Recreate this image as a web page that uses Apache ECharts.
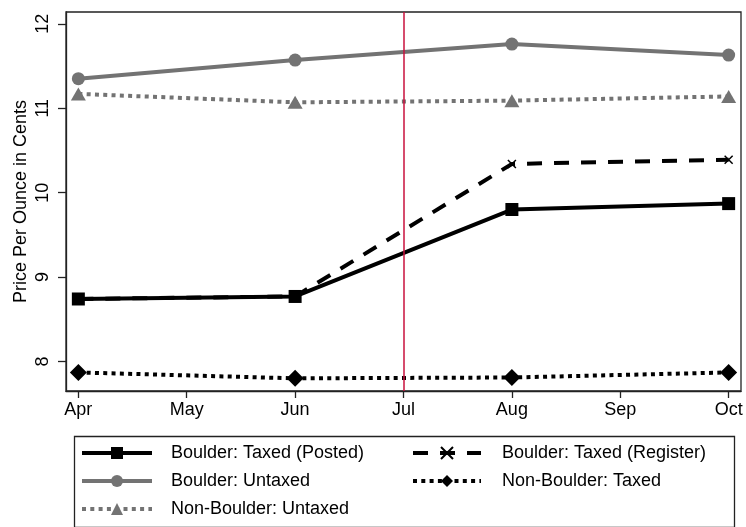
<!DOCTYPE html>
<html>
<head>
<meta charset="utf-8">
<script src="https://cdn.jsdelivr.net/npm/echarts@6/dist/echarts.min.js"></script>
<style>
  html, body { margin: 0; padding: 0; background: #fff; }
  #chart { width: 746px; height: 527px; }
</style>
</head>
<body>
<div id="chart"></div>
<script>
// Month axis and the months where prices were surveyed
const months = ['Apr', 'May', 'Jun', 'Jul', 'Aug', 'Sep', 'Oct'];
const surveyMonths = [0, 2, 4, 6];
const yTicks = [8, 9, 10, 11, 12];

// Price per ounce (cents) at each survey month
const boulderTaxedPosted = [8.74, 8.77, 9.80, 9.87];
const boulderTaxedRegister = [8.74, 8.77, 10.34, 10.39];
const boulderUntaxed = [11.35, 11.57, 11.76, 11.63];
const nonBoulderTaxed = [7.87, 7.80, 7.81, 7.87];
const nonBoulderUntaxed = [11.17, 11.07, 11.09, 11.14];

// Month the tax took effect
const taxStart = 3;

const FONT = '"Liberation Sans", Arial, Helvetica, sans-serif';
const FS = 18;
const GREY = '#737373';
const pairs = vals => surveyMonths.map((m, i) => [m, vals[i]]);

const legendText = pad => ({
  color: '#000', fontSize: FS, fontFamily: FONT, padding: [0, 0, 0, pad]
});

const chart = echarts.init(document.getElementById('chart'));
chart.setOption({
  animation: false,
  textStyle: { fontFamily: FONT },
  grid: {
    left: 66, right: 5, top: 12, height: 379,
    show: true, borderColor: '#222', borderWidth: 1.3, backgroundColor: 'transparent'
  },
  xAxis: {
    type: 'value', min: -0.114, max: 6.114,
    axisLine: { show: true, onZero: false, lineStyle: { color: '#222', width: 1.3 } },
    axisTick: { show: true, length: 7, customValues: months.map((_, i) => i), lineStyle: { color: '#222', width: 1.3 } },
    axisLabel: {
      customValues: months.map((_, i) => i),
      formatter: v => months[Math.round(v)],
      color: '#000', fontSize: FS, fontFamily: FONT, margin: 10
    },
    splitLine: { show: false }
  },
  yAxis: {
    type: 'value', min: 7.65, max: 12.14,
    name: 'Price Per Ounce in Cents', nameLocation: 'middle', nameGap: 36,
    nameMoveOverlap: false,
    nameTextStyle: { color: '#000', fontSize: FS, fontFamily: FONT },
    axisLine: { show: true, onZero: false, lineStyle: { color: '#222', width: 1.3 } },
    axisTick: { show: true, length: 8, customValues: yTicks, lineStyle: { color: '#222', width: 1.3 } },
    axisLabel: {
      customValues: yTicks, rotate: 90, align: 'center', verticalAlign: 'bottom',
      color: '#000', fontSize: FS, fontFamily: FONT, margin: 14
    },
    splitLine: { show: false }
  },
  legend: [
    {
      orient: 'vertical', left: 80, top: 444, padding: 0,
      itemWidth: 70, itemHeight: 15, itemGap: 10,
      lineStyle: { width: 'inherit' },
      textStyle: legendText(14),
      data: ['Boulder: Taxed (Posted)', 'Boulder: Untaxed', 'Non-Boulder: Untaxed']
    },
    {
      orient: 'vertical', left: 411, top: 444, padding: 0,
      itemWidth: 68, itemHeight: 15, itemGap: 10,
      lineStyle: { width: 'inherit' },
      textStyle: legendText(16),
      data: ['Boulder: Taxed (Register)', 'Non-Boulder: Taxed']
    }
  ],
  graphic: [{
    type: 'rect', left: 72, top: 434, silent: true,
    shape: { width: 660, height: 91 },
    style: { fill: 'none', stroke: '#222', lineWidth: 1.3 }
  }],
  series: [
    {
      name: 'Non-Boulder: Untaxed', type: 'line', data: pairs(nonBoulderUntaxed),
      symbol: 'triangle', symbolSize: [15, 13],
      lineStyle: { color: GREY, width: 4, type: [4, 4.3] },
      itemStyle: { color: GREY }
    },
    {
      name: 'Boulder: Untaxed', type: 'line', data: pairs(boulderUntaxed),
      symbol: 'circle', symbolSize: 13,
      lineStyle: { color: GREY, width: 4 },
      itemStyle: { color: GREY }
    },
    {
      name: 'Non-Boulder: Taxed', type: 'line', data: pairs(nonBoulderTaxed),
      symbol: 'diamond', symbolSize: [17, 17],
      lineStyle: { color: '#000', width: 4, type: [4, 4.3] },
      itemStyle: { color: '#000' }
    },
    {
      name: 'Boulder: Taxed (Register)', type: 'line', data: pairs(boulderTaxedRegister),
      symbol: 'path://M0,0L10,10M10,0L0,10', symbolSize: 8,
      lineStyle: { color: '#000', width: 4, type: [15, 12] },
      itemStyle: { color: '#000', borderColor: '#000', borderWidth: 1.5 }
    },
    {
      name: 'Boulder: Taxed (Posted)', type: 'line', data: pairs(boulderTaxedPosted),
      symbol: 'rect', symbolSize: 13,
      lineStyle: { color: '#000', width: 4 },
      itemStyle: { color: '#000' },
      markLine: {
        silent: true, symbol: 'none', label: { show: false },
        lineStyle: { color: '#c8103c', width: 1.5, type: 'solid' },
        data: [{ xAxis: taxStart }]
      }
    }
  ]
});
</script>
</body>
</html>
